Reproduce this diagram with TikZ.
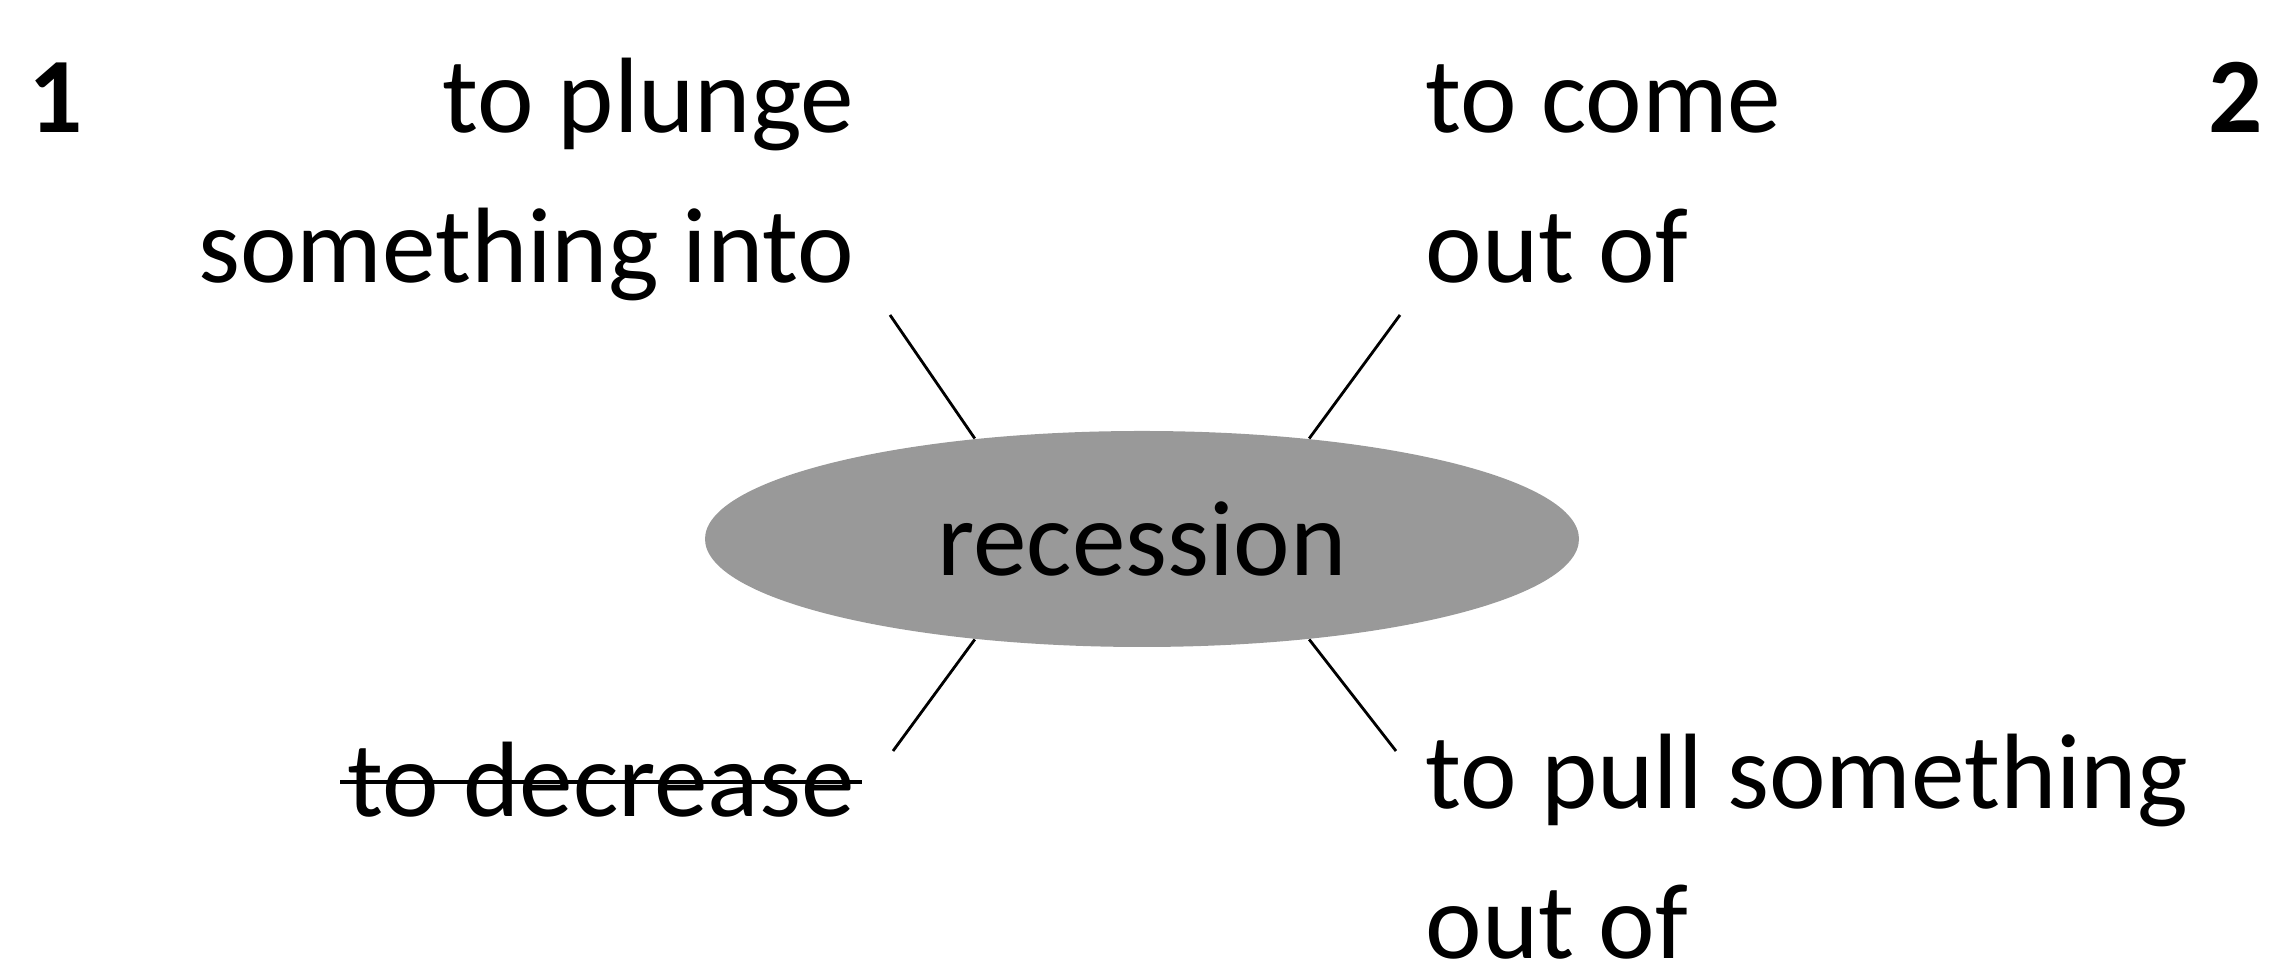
\documentclass[tikz,border=0pt]{standalone}
\usepackage{fontspec}
\setmainfont{Carlito}
\usetikzlibrary{shapes.geometric,positioning}

\begin{document}
\begin{tikzpicture}[x=0.1mm,y=0.1mm,
        word/.style={inner sep=0pt,font=\fontsize{30.5}{42.7}\selectfont},
        leftword/.style={word,align=right,anchor=base east},
        rightword/.style={word,align=left,anchor=base west},
        spoke/.style={line width=0.8pt},
        strike/.style={line width=1.2pt}]
        \useasboundingbox (0,0) rectangle (2280,967);
        \node[ellipse,word,fill=black!40,minimum width=87.4mm,minimum height=21.6mm] (rec) at (1142,428) {recession};
        \node[word,font=\fontsize{30.5}{42.7}\selectfont\bfseries,anchor=base west] (one) at (28,834) {1};
        \node[word,font=\fontsize{30.5}{42.7}\selectfont\bfseries,anchor=base east] (two) at (2264,834) {2};
        \node[leftword] (plunge) at (855,684) {to plunge\\something into};
        \node[rightword] (come) at (1425,684) {to come\\out of};
        \node[leftword] (decr) at (855,150) {to decrease};
        \node[rightword,text depth=0pt] (pull) at (1425,8) {to pull something\\out of};
        \coordinate (ul) at (890,652);
        \coordinate (ur) at (1400,652);
        \coordinate (ll) at (893,216);
        \coordinate (lr) at (1396,216);
        \draw[spoke] (rec.149) -- (ul);
        \draw[spoke] (rec.31) -- (ur);
        \draw[spoke] (rec.211) -- (ll);
        \draw[spoke] (rec.329) -- (lr);
        \draw[strike] ([shift={(-7,35)}]decr.base west) -- ([shift={(7,35)}]decr.base east);
    \end{tikzpicture}
\end{document}
